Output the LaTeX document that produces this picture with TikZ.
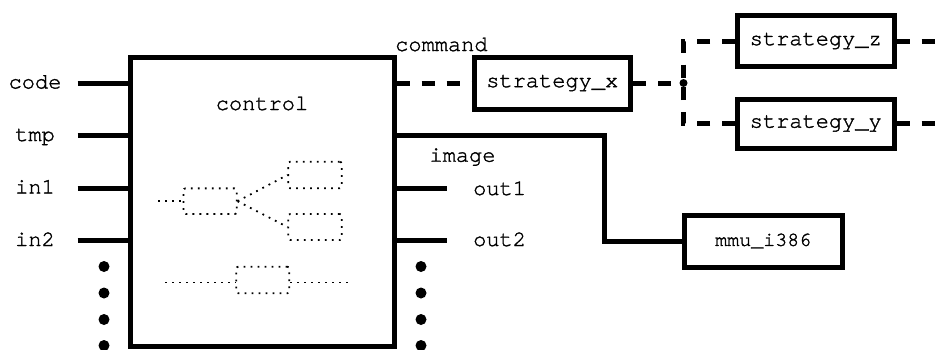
\documentclass[tikz,border=0pt]{standalone}
\usepackage{fontspec}
\newfontfamily\diagmono[FakeBold=1.5]{TeX Gyre Cursor}
\begin{document}
\begin{tikzpicture}[x=1pt,y=-1pt,
  lbl/.style={font=\diagmono\fontsize{22}{26}\selectfont, inner sep=0},
  thickline/.style={line width=5pt},
  sbox/.style={draw, line width=5pt, inner sep=0, font=\diagmono\fontsize{22}{26}\selectfont},
  dashline/.style={line width=5pt, dash pattern=on 13pt off 12pt},
  dotline/.style={line width=1.8pt, dash pattern=on 1.8pt off 5.2pt},
  dbox/.style={draw, dotline, rounded corners=2pt, inner sep=0},
  bigdot/.style={circle, fill, inner sep=0, minimum size=11pt},
  jdot/.style={circle, fill, inner sep=0, minimum size=8pt},
]
\useasboundingbox (0,0) rectangle (946,349);

% main block
\node[sbox, minimum width=263.5pt, minimum height=289pt] (ctl) at (262.25,201.5) {};
\node[lbl, anchor=base] (tctl) at (262,110) {control};

% inputs
\coordinate (i0) at (77.7,83);
\coordinate (i1) at (77.7,135.5);
\coordinate (i2) at (77.7,188);
\coordinate (i3) at (77.7,240.5);
\draw[thickline] (i0) -- (i0 -| ctl.west);
\draw[thickline] (i1) -- (i1 -| ctl.west);
\draw[thickline] (i2) -- (i2 -| ctl.west);
\draw[thickline] (i3) -- (i3 -| ctl.west);
\node[lbl, anchor=base] (tcode) at (35,88.5) {code};
\node[lbl, anchor=base] (ttmp) at (35,141) {tmp};
\node[lbl, anchor=base] (tin1) at (35,193.5) {in1};
\node[lbl, anchor=base] (tin2) at (35,246) {in2};

% outputs
\coordinate (o1) at (446.7,188);
\coordinate (o2) at (446.7,240.5);
\draw[thickline] (ctl.east |- o1) -- (o1);
\draw[thickline] (ctl.east |- o2) -- (o2);
\node[lbl, anchor=base west] (tout1) at (473,195) {out1};
\node[lbl, anchor=base west] (tout2) at (473,246) {out2};

% continuation dots
\foreach \k/\yy in {1/266.5,2/293,3/319.5,4/345.5}{
  \node[bigdot] (ld\k) at (104,\yy) {};
  \node[bigdot] (rd\k) at (421,\yy) {};
}

% strategies
\node[sbox, minimum width=156.5pt, minimum height=52pt] (sx) at (552.25,83) {strategy\_x};
\node[sbox, minimum width=156.5pt, minimum height=51pt] (sz) at (815.75,41) {strategy\_z};
\node[sbox, minimum width=156.5pt, minimum height=49pt] (sy) at (815.75,123.5) {strategy\_y};
\node[jdot] (j) at (683.5,83) {};
\node[lbl, anchor=base west] (tcmd) at (395,51) {command};
\draw[dashline] (ctl.east |- sx.west) -- (sx.west);
\draw[dashline] (sx.east) -- (j.center);
\draw[dashline] (sz.west) -| (j.center);
\draw[dashline] (sy.west) -| (j.center);
\coordinate (ez) at (946,41);
\coordinate (ey) at (946,123.5);
\draw[dashline] (sz.east) -- (ez);
\draw[dashline] (sy.east) -- (ey);

% image -> mmu
\node[sbox, minimum width=158.5pt, minimum height=52pt, font=\diagmono\fontsize{20}{24}\selectfont] (mmu) at (763.25,241) {mmu\_i386};
\coordinate (bend) at (604,241);
\draw[thickline] (ctl.east |- 0,135.5) -| (bend) -- (mmu.west);
\node[lbl, anchor=base] (timg) at (462.5,161.7) {image};

% inner dotted sketch
\node[dbox, minimum width=53.2pt, minimum height=25.7pt] (ia) at (210.1,201.2) {};
\node[dbox, minimum width=53.4pt, minimum height=26.6pt] (ib) at (315,175) {};
\node[dbox, minimum width=53.4pt, minimum height=26pt] (ic) at (315,227) {};
\node[dbox, minimum width=53pt, minimum height=26.6pt] (id) at (262.8,280) {};
\coordinate (tl) at (158,201.2);
\draw[dotline] (tl) -- (ia.west);
\draw[dotline] (ia.east) -- (ib.west);
\draw[dotline] (ia.east) -- (ic.west);
\coordinate (bl) at (165,282.5);
\coordinate (br) at (348,282.5);
\draw[dotline] (bl) -- (bl -| id.west);
\draw[dotline] (id.east |- br) -- (br);
\end{tikzpicture}
\end{document}
